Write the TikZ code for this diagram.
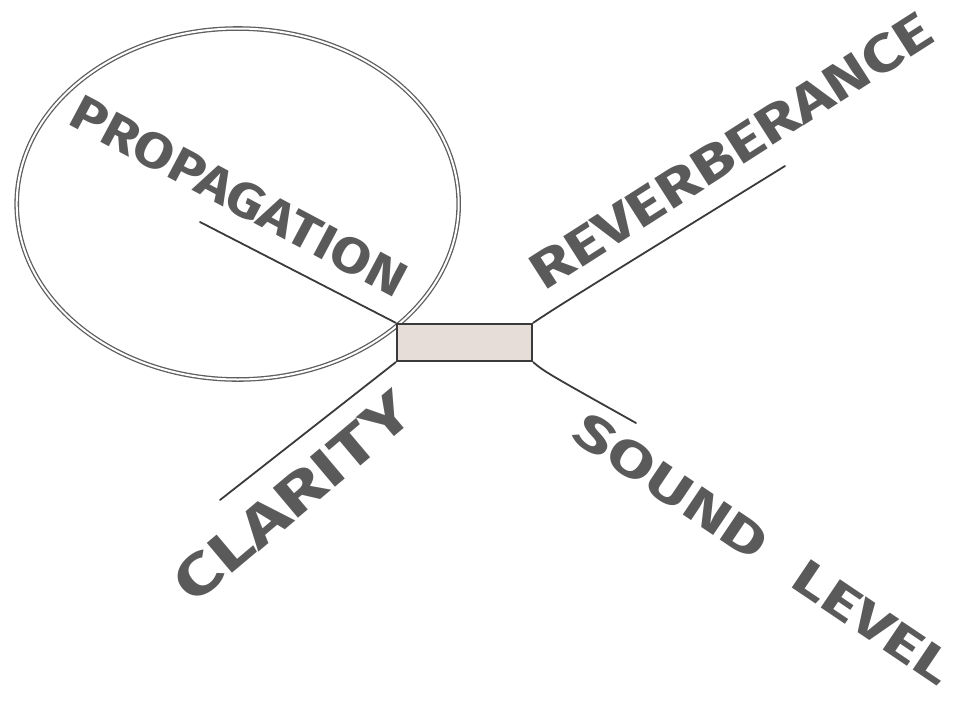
\documentclass[tikz,border=0pt]{standalone}
\usepackage{fontspec}
\setmainfont{Fira Sans}
\usepackage{graphicx}
\definecolor{ink}{HTML}{5A5A5A}
\definecolor{pen}{HTML}{3A3A3A}
\definecolor{ring}{HTML}{5E5E5E}
\definecolor{hubfill}{HTML}{E6DDD8}
\begin{document}
\begin{tikzpicture}[x=1pt,y=-1pt,
  label/.style={inner sep=0pt, text=ink, font=\bfseries},
  branch/.style={draw=pen, line width=1.8pt, line cap=round},
  hubbox/.style={draw=pen, line width=2.3pt, fill=hubfill, inner sep=0pt,
    minimum width=135pt, minimum height=37pt}]
\useasboundingbox (0,0) rectangle (969,702);

% circled region around the first branch
\draw[ring, double=white, double distance=2pt, line width=1.3pt]
  (237.7,204) ellipse [x radius=221, y radius=175.5];

% central block
\node[hubbox] (hub) at (464.5,342.5) {};

% free ends of the four branches
\coordinate (pEnd) at (200,222);
\coordinate (rEnd) at (785,166);
\coordinate (cEnd) at (220,500);
\coordinate (sEnd) at (636,423);

\draw[branch] (hub.north west) -- (pEnd);
\draw[branch] (hub.north east) .. controls (560,305) .. (rEnd);
\draw[branch] (hub.south west) -- (cEnd);
\draw[branch] (hub.south east) .. controls (545,372) .. (sEnd);

% branch labels
\node[label, rotate=-28] (prop) at (239,196)
  {\resizebox{372pt}{35pt}{PROPAGATION}};
\node[label, rotate=32.6] (reverb) at (731,151)
  {\resizebox{466pt}{37pt}{REVERBERANCE}};
\node[label, rotate=40.1] (clar) at (293,497)
  {\resizebox{292pt}{40pt}{CLARITY}};
\node[label, rotate=-34] (sound) at (764,549)
  {\resizebox{445pt}{35pt}{SOUND\hspace{0.6em}LEVEL}};
\end{tikzpicture}
\end{document}
